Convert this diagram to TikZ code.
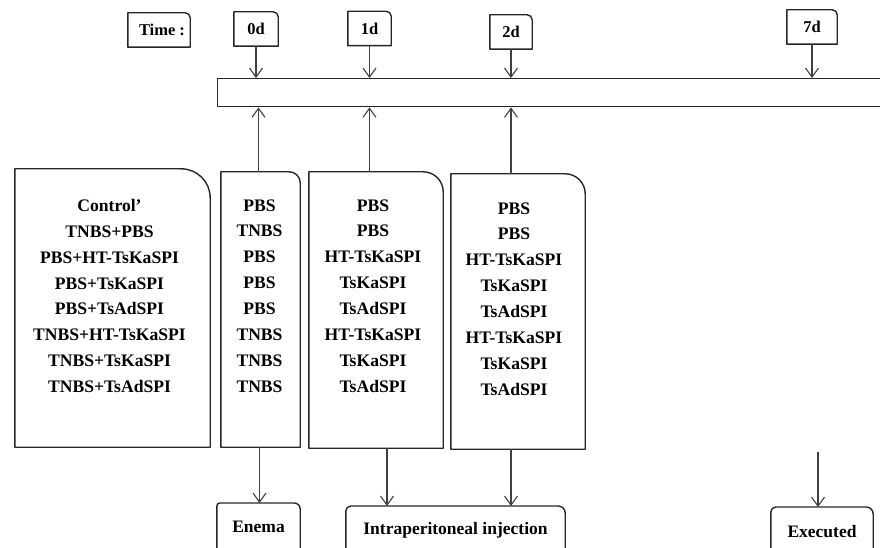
\documentclass[tikz,border=0pt]{standalone}
\usepackage{fontspec}
\setmainfont{Liberation Serif}
\usetikzlibrary{arrows.meta}
\usetikzlibrary{positioning}

% outline of a box with rounded top corners (left radius, right radius)
\newcommand{\tabbox}[3]{%
  \draw[boxline] (#1.south west) -- ([yshift=-#2pt]#1.north west)
    arc[start angle=180, end angle=90, radius=#2pt]
    -- ([xshift=-#3pt]#1.north east)
    arc[start angle=90, end angle=0, radius=#3pt]
    -- (#1.south east) -- cycle;}

\begin{document}
\begin{tikzpicture}[x=1pt, y=1pt,
    boxline/.style={draw=black!85, line width=1.4pt, line join=round},
    shell/.style={inner sep=0pt, minimum width=#1},
    daylabel/.style={inner sep=0pt, minimum height=34, font=\fontsize{16.5}{18}\selectfont\bfseries},
    grptext/.style={inner sep=0pt, align=center, font=\fontsize{17.6}{25.9}\selectfont\bfseries},
    steplabel/.style={inner sep=0pt, minimum height=48, anchor=north, font=\fontsize{17.5}{20}\selectfont\bfseries},
    arr/.style={draw=black!75, line width=1.1pt, -{Straight Barb[length=9pt, width=13pt]}}]
    \useasboundingbox (0,0) rectangle (880,-548);
    \clip (0,0) rectangle (880,-548);

    % time line
    \node[daylabel, minimum width=62] (time) at (159,-30) {\hspace*{6pt}Time :};
    \node[daylabel, minimum width=44] (d0) at (256,-29) {0d};
    \node[daylabel, minimum width=43] (d1) at (369.5,-28.5) {1d};
    \node[daylabel, minimum width=42] (d2) at (511,-32) {2d};
    \node[daylabel, minimum width=50] (d7) at (812,-27) {7d};
    \tabbox{time}{0.1}{5}
    \tabbox{d0}{0.1}{5}
    \tabbox{d1}{0.1}{5}
    \tabbox{d2}{0.1}{5}
    \tabbox{d7}{0.1}{5}

    \node[boxline, inner sep=0pt, anchor=north west, minimum width=700, minimum height=28] (bar) at (217,-78) {};

    % groups
    \node[shell=195, minimum height=278] (ctl) at (112.5,-308) {};
    \node[shell=79, minimum height=275] (g0) at (260.5,-309.5) {};
    \node[shell=134, minimum height=276] (g1) at (376,-310) {};
    \node[shell=134, minimum height=275] (g2) at (518,-311.5) {};
    \tabbox{ctl}{0.1}{29}
    \tabbox{g0}{0.1}{11}
    \tabbox{g1}{0.1}{20}
    \tabbox{g2}{0.1}{20}

    \node[grptext] (ctllist) at ([xshift=-3pt, yshift=12pt]ctl.center)
        {Control’\\TNBS+PBS\\PBS+HT-TsKaSPI\\PBS+TsKaSPI\\PBS+TsAdSPI\\TNBS+HT-TsKaSPI\\TNBS+TsKaSPI\\TNBS+TsAdSPI};
    \node[grptext] (g0list) at ([xshift=-1pt, yshift=13.5pt]g0.center)
        {PBS\\TNBS\\PBS\\PBS\\PBS\\TNBS\\TNBS\\TNBS};
    \node[grptext] (g1list) at ([xshift=-3pt, yshift=14pt]g1.center)
        {PBS\\PBS\\HT-TsKaSPI\\TsKaSPI\\TsAdSPI\\HT-TsKaSPI\\TsKaSPI\\TsAdSPI};
    \node[grptext] (g2list) at ([xshift=-4pt, yshift=12.5pt]g2.center)
        {PBS\\PBS\\HT-TsKaSPI\\TsKaSPI\\TsAdSPI\\HT-TsKaSPI\\TsKaSPI\\TsAdSPI};

    % treatments
    \node[steplabel, minimum width=83] (enema) at (258.5,-503) {Enema};
    \node[steplabel, minimum width=219] (inj) at (455.5,-506) {Intraperitoneal injection};
    \node[steplabel, minimum width=102] (exe) at (822,-507) {Executed};
    \tabbox{enema}{3}{6}
    \tabbox{inj}{5}{7}
    \tabbox{exe}{5}{7}

    % arrows
    \draw[arr] (d0.south) -- (d0.south |- bar.north);
    \draw[arr] (d1.south) -- (d1.south |- bar.north);
    \draw[arr] (d2.south) -- (d2.south |- bar.north);
    \draw[arr] (d7.south) -- (d7.south |- bar.north);

    \draw[arr] ([xshift=-2pt]g0.north) -- ([xshift=-2pt]g0.north |- bar.south);
    \draw[arr] (d1 |- g1.north) -- (d1 |- bar.south);
    \draw[arr] (d2 |- g2.north) -- (d2 |- bar.south);

    \draw[arr] ([xshift=-1pt]g0.south) -- ([xshift=-1pt]g0.south |- enema.north);
    \draw[arr] ([xshift=11pt]g1.south) -- ([xshift=11pt]g1.south |- inj.north);
    \draw[arr] (d2 |- g2.south) -- (d2 |- inj.north);
    \coordinate (exstart) at (818,-452);
    \draw[arr] (exstart) -- (exstart |- exe.north);
\end{tikzpicture}
\end{document}
